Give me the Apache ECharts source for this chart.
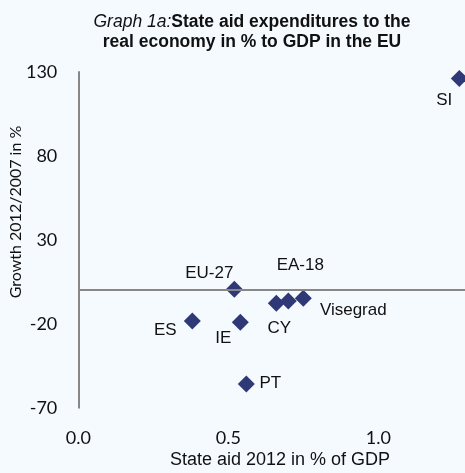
<!DOCTYPE html>
<html>
<head>
<meta charset="utf-8">
<script src="https://cdn.jsdelivr.net/npm/echarts@6/dist/echarts.min.js"></script>
<style>
  html, body { margin: 0; padding: 0; background: #F5FAFE; }
  #chart { width: 465px; height: 473px; }
</style>
</head>
<body>
<div id="chart"></div>
<script>
// State aid 2012 (% of GDP) vs. growth of state aid 2012/2007 (%)
const countries = ['EU-27', 'ES', 'IE', 'PT', 'CY', 'Visegrad', 'EA-18', 'SI'];
const stateAid2012 = [0.52, 0.38, 0.54, 0.56, 0.66, 0.75, 0.70, 1.27];
const growth2012_2007 = [0.5, -18.3, -19.1, -55.9, -7.8, -4.8, -6.4, 126.2];

const yTicks = [-70, -20, 30, 80, 130];
const xTicks = [0.0, 0.5, 1.0];

// label placement around each marker (dx, dy from marker centre, px)
const labelPlacement = {
  'EU-27': [-25, -16],
  'ES': [-27, 9],
  'IE': [-17, 16],
  'PT': [24, -1],
  'CY': [3, 25],
  'Visegrad': [50, 12],
  'EA-18': [12, -36],
  'SI': [-15, 22]
};

const points = countries.map((name, i) => ({
  name: name,
  value: [stateAid2012[i], growth2012_2007[i]],
  label: { offset: labelPlacement[name] }
}));

const axisGrey = '#878787';
const textDark = '#111111';
const arial = 'Liberation Sans, Arial, sans-serif';

const chart = echarts.init(document.getElementById('chart'), null, { renderer: 'canvas' });
chart.setOption({
  backgroundColor: '#F5FAFE',
  animation: false,
  title: {
    left: 252,
    top: 12,
    padding: 0,
    textAlign: 'center',
    text: '{i|Graph 1a:}{b|State aid expenditures to the}\n{b|real economy in % to GDP in the EU}',
    textStyle: {
      fontWeight: 'normal',
      rich: {
        i: { fontFamily: arial, fontStyle: 'italic', fontWeight: 'normal', fontSize: 17.5, lineHeight: 20, color: textDark },
        b: { fontFamily: arial, fontWeight: 'bold', fontSize: 17.5, lineHeight: 20, color: textDark }
      }
    }
  },
  grid: { left: 78.3, top: 72, bottom: 65.3, right: 0, containLabel: false },
  xAxis: {
    type: 'value',
    min: xTicks[0],
    max: 1.289,
    interval: 0.5,
    axisLine: { show: false },
    axisTick: { show: false },
    splitLine: { show: false },
    axisLabel: {
      showMaxLabel: false,
      margin: 21,
      fontFamily: 'Lato, sans-serif',
      fontSize: 18,
      color: textDark,
      formatter: v => xTicks.some(t => Math.abs(t - v) < 1e-9) ? v.toFixed(1) : ''
    }
  },
  yAxis: {
    type: 'value',
    min: yTicks[0],
    max: yTicks[yTicks.length - 1],
    interval: 50,
    axisLine: { show: true, lineStyle: { color: axisGrey, width: 2 } },
    axisTick: { show: false },
    splitLine: { show: false },
    axisLabel: {
      margin: 21,
      fontFamily: 'Lato, sans-serif',
      fontSize: 18,
      color: textDark
    }
  },
  graphic: [{
    type: 'text',
    x: 16,
    y: 212,
    rotation: Math.PI / 2,
    style: {
      text: 'Growth 2012/2007 in %',
      fontFamily: 'Lato, sans-serif',
      fontSize: 16,
      fill: textDark,
      textAlign: 'center',
      textVerticalAlign: 'middle'
    }
  }, {
    type: 'text',
    x: 280,
    y: 460,
    style: {
      text: 'State aid 2012 in % of GDP',
      fontFamily: arial,
      fontSize: 18,
      fill: textDark,
      textAlign: 'center',
      textVerticalAlign: 'middle'
    }
  }],
  series: [{
    type: 'scatter',
    symbol: 'diamond',
    symbolSize: [17, 17],
    itemStyle: { color: '#2F3977', opacity: 1 },
    data: points,
    label: {
      show: true,
      position: 'inside',
      formatter: p => p.name,
      fontFamily: arial,
      fontSize: 17,
      color: textDark,
      opacity: 1
    },
    emphasis: { disabled: true },
    markLine: {
      silent: true,
      symbol: 'none',
      label: { show: false },
      lineStyle: { color: axisGrey, width: 2, type: 'solid', opacity: 1 },
      data: [{ yAxis: 0 }]
    },
    z: 3
  }]
});
</script>
</body>
</html>
